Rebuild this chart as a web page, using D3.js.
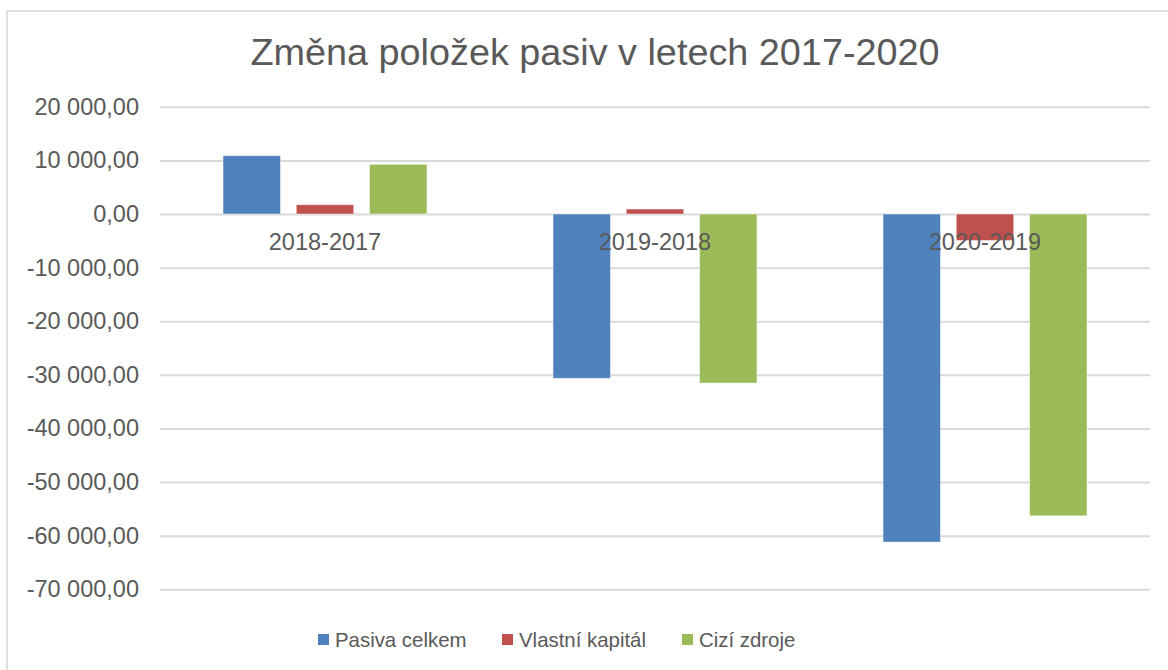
<!DOCTYPE html>
<html>
<head>
<meta charset="utf-8">
<script src="https://cdn.jsdelivr.net/npm/d3@7"></script>
<style>
  body { margin: 0; background: #fff; }
  text { font-family: "Liberation Sans", Arial, sans-serif; fill: #595959; }
</style>
</head>
<body>
<div id="chart"></div>
<script>
var categories = ["2018-2017", "2019-2018", "2020-2019"];
var seriesNames = ["Pasiva celkem", "Vlastní kapitál", "Cizí zdroje"];
var pasivaCelkem = [10880, -30650, -61190];
var vlastniKapital = [1740, 930, -4940];
var ciziZdroje = [9270, -31530, -56290];
var yTicks = [20000, 10000, 0, -10000, -20000, -30000, -40000, -50000, -60000, -70000];
var colors = ["#4f81bd", "#c0504d", "#9bbb59"];

function init(){
    var w = 1168;
    var h = 670;
    var seriesValues = [pasivaCelkem, vlastniKapital, ciziZdroje];

    var svg = d3.select("#chart")
                .append("svg")
                .attr("width", w)
                .attr("height", h);

    // chart frame (only left and top edges are in view)
    svg.append("path")
        .attr("d", "M7,670 L7,11 L1168,11")
        .attr("fill", "none")
        .attr("stroke", "#e0e0e0")
        .attr("stroke-width", 2);

    svg.append("text")
        .attr("x", 595)
        .attr("y", 65)
        .attr("text-anchor", "middle")
        .style("font-size", "37.8px")
        .text("Změna položek pasiv v letech 2017-2020");

    var y = d3.scaleLinear()
                .domain([-70000, 20000])
                .range([589.3, 106.8]);

    var x0 = d3.scaleBand()
                .domain(categories)
                .range([160, 1150])
                .paddingInner(0.382)
                .paddingOuter(0.191);

    var x1 = d3.scaleBand()
                .domain(seriesNames)
                .range([0, x0.bandwidth()])
                .paddingInner(0.216);

    var fmt = function(d){
        var s = d3.format(",.2f")(Math.abs(d)).replace(/,/g, " ").replace(".", ",");
        return (d < 0 ? "-" : "") + s;
    };

    var yAxis = d3.axisLeft(y)
                .tickValues(yTicks)
                .tickSize(-(1150 - 160))
                .tickPadding(21)
                .tickFormat(fmt);

    var gy = svg.append("g")
                .attr("transform", "translate(160,0)")
                .call(yAxis);
    gy.select(".domain").remove();
    gy.selectAll(".tick line")
        .attr("stroke", "#d9d9d9")
        .attr("stroke-width", 2);
    gy.selectAll(".tick text")
        .style("font-size", "23.5px")
        .attr("fill", "#595959");

    var rows = [];
    categories.forEach(function(c, i){
        seriesNames.forEach(function(s, j){
            rows.push({cat: c, series: s, value: seriesValues[j][i], color: colors[j]});
        });
    });

    svg.selectAll("rect.bar")
        .data(rows)
        .enter()
        .append("rect")
        .attr("class", "bar")
        .attr("x", function(d){ return x0(d.cat) + x1(d.series); })
        .attr("width", x1.bandwidth())
        .attr("y", function(d){ return Math.min(y(d.value), y(0)); })
        .attr("height", function(d){ return Math.abs(y(d.value) - y(0)); })
        .style("fill", function(d){ return d.color; })
        .style("stroke", "rgba(255,255,255,0.45)")
        .style("stroke-width", 1);

    // category labels sit just below the zero line
    svg.selectAll("text.cat")
        .data(categories)
        .enter()
        .append("text")
        .attr("class", "cat")
        .attr("x", function(d){ return x0(d) + x0.bandwidth() / 2; })
        .attr("y", y(0) + 36)
        .attr("text-anchor", "middle")
        .style("font-size", "23.5px")
        .text(function(d){ return d; });

    var legendX = [318, 502, 682];
    var legend = svg.selectAll("g.legend")
                    .data(seriesNames)
                    .enter()
                    .append("g")
                    .attr("class", "legend")
                    .attr("transform", function(d, i){ return "translate(" + legendX[i] + ",634)"; });
    legend.append("rect")
        .attr("width", 11)
        .attr("height", 11)
        .style("fill", function(d, i){ return colors[i]; });
    legend.append("text")
        .attr("x", 17)
        .attr("y", 13)
        .style("font-size", "20.4px")
        .text(function(d){ return d; });
}
window.onload = init;
</script>
</body>
</html>
